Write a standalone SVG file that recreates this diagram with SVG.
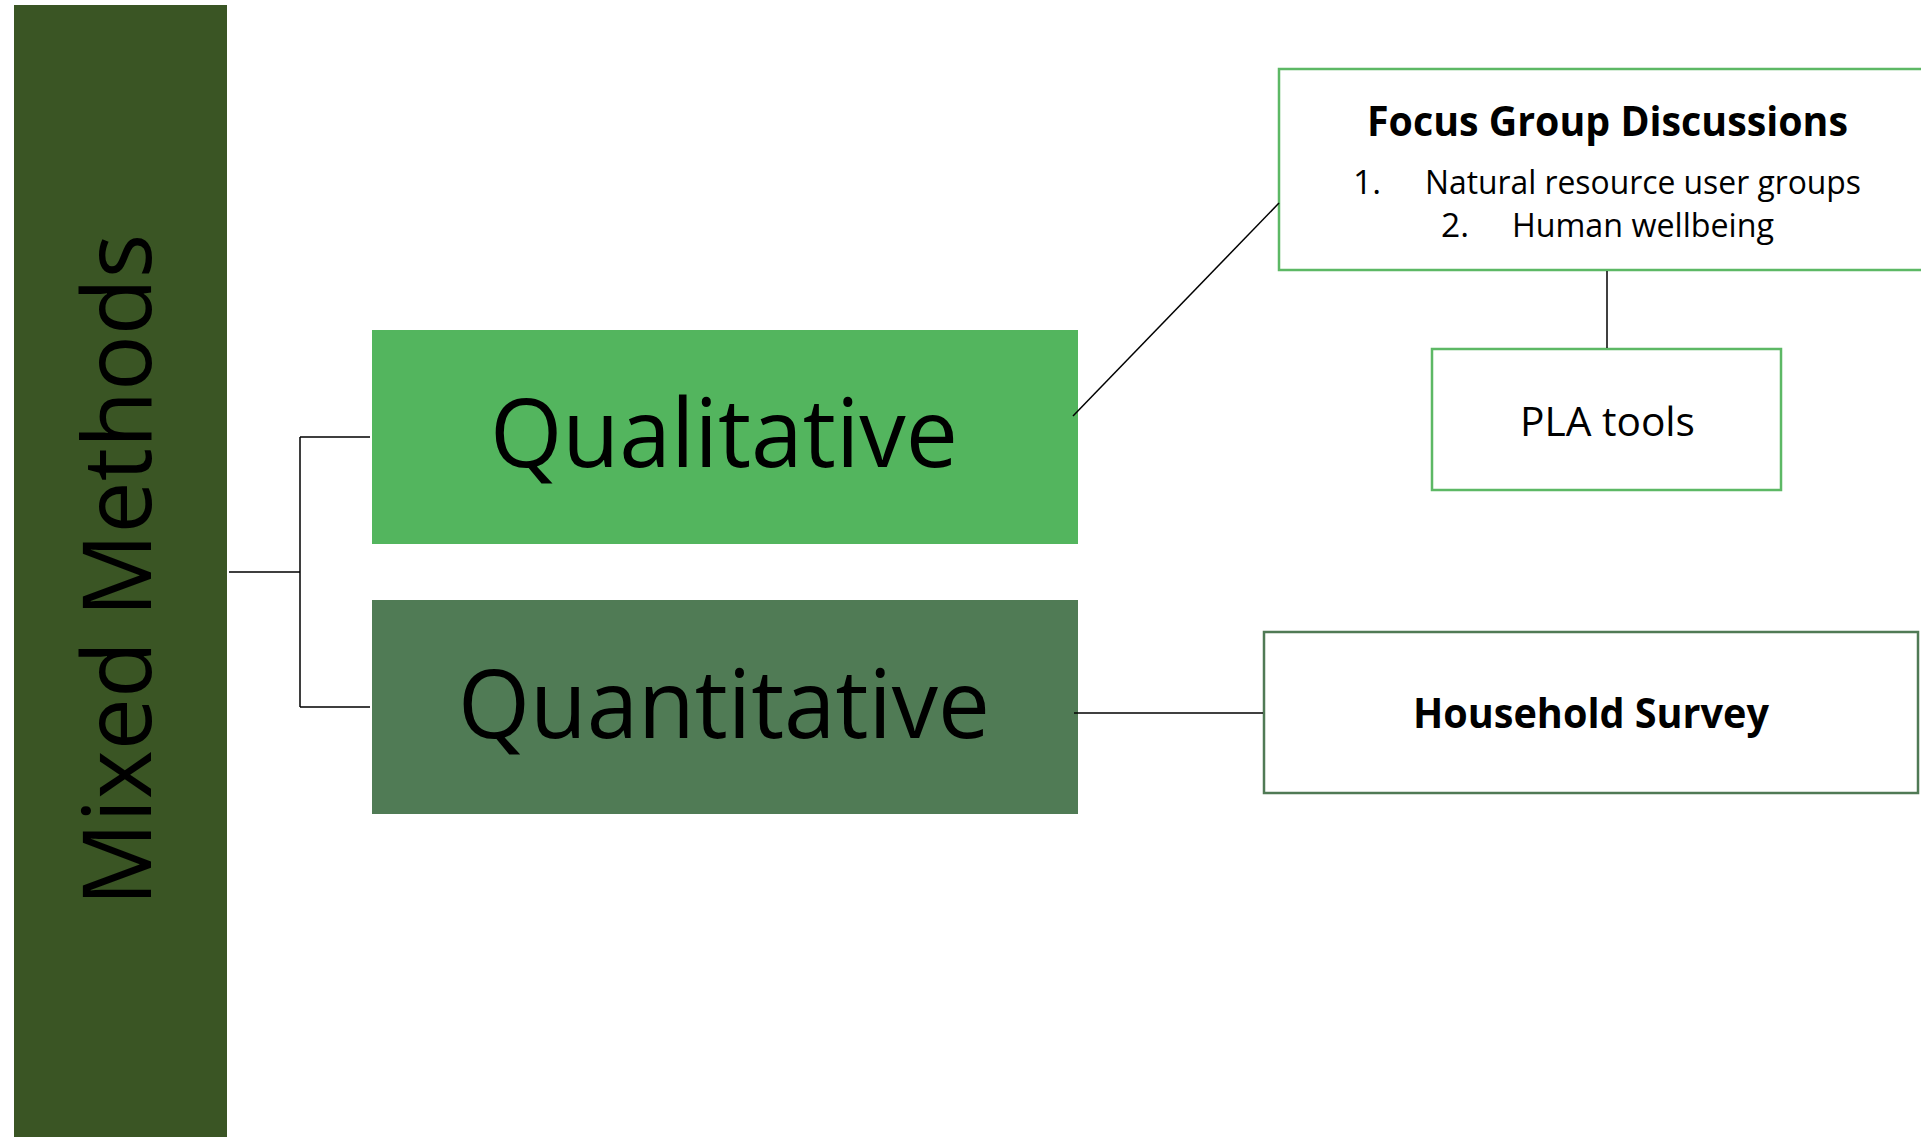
<svg xmlns="http://www.w3.org/2000/svg" width="1921" height="1137" viewBox="0 0 1921 1137">
  <style>
    text { font-family: "Open Sans", "Noto Sans", "Liberation Sans", sans-serif; fill: #000; }
    .big { font-size: 96px; }
    .bold { font-weight: bold; font-size: 40.5px; }
    .item { font-size: 33.6px; }
    .mid { font-size: 40.6px; }
    .conn { stroke: #000; stroke-width: 1.5; fill: none; }
    .lightbox { fill: #fff; stroke: #5DB865; stroke-width: 2.5; }
    .darkbox { fill: #fff; stroke: #507A55; stroke-width: 2.5; }
  </style>
  <rect width="1921" height="1137" fill="#fff"/>

  <g id="mixed-methods">
    <rect x="14" y="5" width="213" height="1132" fill="#3A5524"/>
    <text transform="translate(151,570) rotate(-90)" text-anchor="middle" style="font-size:96px" textLength="672" lengthAdjust="spacingAndGlyphs">Mixed Methods</text>
  </g>

  <g id="qualitative">
    <rect x="372" y="330" width="706" height="214" fill="#53B55E"/>
    <text class="big" x="724" y="467" text-anchor="middle" textLength="468" lengthAdjust="spacingAndGlyphs">Qualitative</text>
  </g>

  <g id="quantitative">
    <rect x="372" y="600" width="706" height="214" fill="#507B55"/>
    <text class="big" x="724" y="738" text-anchor="middle" textLength="532" lengthAdjust="spacingAndGlyphs">Quantitative</text>
  </g>

  <g id="focus-group-discussions">
    <rect class="lightbox" x="1279" y="69" width="662" height="201"/>
    <text class="bold" x="1607.5" y="136" text-anchor="middle" textLength="481" lengthAdjust="spacingAndGlyphs">Focus Group Discussions</text>
    <text class="item" x="1353" y="194">1.</text>
    <text class="item" x="1425" y="194" textLength="436" lengthAdjust="spacingAndGlyphs">Natural resource user groups</text>
    <text class="item" x="1441" y="237">2.</text>
    <text class="item" x="1512" y="237" textLength="262" lengthAdjust="spacingAndGlyphs">Human wellbeing</text>
  </g>

  <g id="pla-tools">
    <rect class="lightbox" x="1432" y="349" width="349" height="141"/>
    <text class="mid" x="1607.5" y="436" text-anchor="middle" textLength="175" lengthAdjust="spacingAndGlyphs">PLA tools</text>
  </g>

  <g id="household-survey">
    <rect class="darkbox" x="1264" y="632" width="654" height="161"/>
    <text class="bold" x="1591" y="728" text-anchor="middle" textLength="356" lengthAdjust="spacingAndGlyphs">Household Survey</text>
  </g>

  <g id="connectors">
    <path class="conn" d="M229 572 H300 M300 437 V707 M300 437 H370 M300 707 H370"/>
    <line class="conn" x1="1073" y1="416" x2="1279" y2="203"/>
    <line class="conn" x1="1607" y1="271" x2="1607" y2="348" stroke="#333"/>
    <line class="conn" x1="1074" y1="713" x2="1263" y2="713"/>
  </g>
</svg>
